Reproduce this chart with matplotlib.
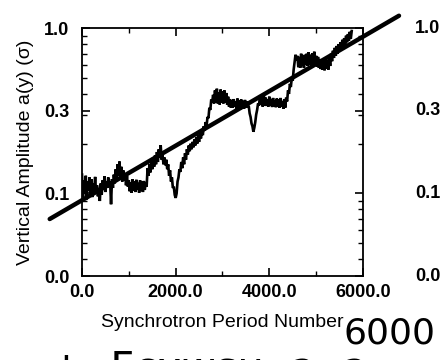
import numpy as np
import matplotlib.pyplot as plt
from matplotlib.ticker import FixedLocator, NullFormatter, LogLocator

plt.rcParams['font.family'] = ['Liberation Sans', 'DejaVu Sans']

period_step = 20
amplitude = [
    0.130, 0.095, 0.120, 0.100, 0.128, 0.092, 0.118, 0.104, 0.125, 0.098,
    0.122, 0.095, 0.115, 0.104, 0.126, 0.100, 0.112, 0.096, 0.108, 0.090,
    0.115, 0.098, 0.120, 0.105, 0.127, 0.102, 0.118, 0.108, 0.125, 0.110,
    0.118, 0.086, 0.122, 0.108, 0.130, 0.115, 0.140, 0.120, 0.150, 0.128,
    0.156, 0.125, 0.145, 0.118, 0.138, 0.120, 0.132, 0.112, 0.128, 0.110,
    0.120, 0.103, 0.117, 0.101, 0.122, 0.104, 0.118, 0.102, 0.121, 0.105,
    0.116, 0.101, 0.120, 0.104, 0.118, 0.102, 0.119, 0.105, 0.116, 0.110,
    0.142, 0.128, 0.150, 0.134, 0.158, 0.140, 0.165, 0.145, 0.170, 0.150,
    0.178, 0.155, 0.185, 0.165, 0.196, 0.160, 0.170, 0.150, 0.165, 0.148,
    0.160, 0.140, 0.150, 0.128, 0.138, 0.118, 0.125, 0.108, 0.110, 0.098,
    0.094, 0.100, 0.118, 0.125, 0.140, 0.135, 0.155, 0.142, 0.165, 0.150,
    0.175, 0.160, 0.185, 0.172, 0.195, 0.180, 0.200, 0.185, 0.205, 0.190,
    0.212, 0.195, 0.218, 0.200, 0.225, 0.205, 0.230, 0.215, 0.240, 0.225,
    0.255, 0.240, 0.270, 0.255, 0.290, 0.285, 0.330, 0.320, 0.370, 0.355,
    0.395, 0.350, 0.420, 0.355, 0.430, 0.350, 0.410, 0.345, 0.425, 0.355,
    0.415, 0.350, 0.420, 0.355, 0.405, 0.345, 0.385, 0.335, 0.372, 0.330,
    0.365, 0.330, 0.372, 0.335, 0.360, 0.325, 0.375, 0.330, 0.365, 0.322,
    0.370, 0.330, 0.362, 0.325, 0.368, 0.332, 0.360, 0.330, 0.340, 0.305,
    0.290, 0.265, 0.255, 0.236, 0.250, 0.270, 0.300, 0.320, 0.350, 0.340,
    0.390, 0.345, 0.375, 0.335, 0.400, 0.340, 0.380, 0.338, 0.372, 0.335,
    0.385, 0.340, 0.370, 0.333, 0.378, 0.338, 0.365, 0.332, 0.375, 0.336,
    0.370, 0.330, 0.378, 0.335, 0.362, 0.325, 0.372, 0.330, 0.380, 0.360,
    0.420, 0.400, 0.460, 0.440, 0.500, 0.480, 0.560, 0.620, 0.690, 0.640,
    0.680, 0.580, 0.670, 0.575, 0.700, 0.590, 0.680, 0.575, 0.690, 0.600,
    0.700, 0.590, 0.715, 0.600, 0.690, 0.585, 0.705, 0.595, 0.720, 0.610,
    0.680, 0.585, 0.670, 0.575, 0.650, 0.565, 0.640, 0.560, 0.630, 0.555,
    0.660, 0.570, 0.640, 0.560, 0.660, 0.590, 0.700, 0.630, 0.730, 0.660,
    0.760, 0.680, 0.780, 0.700, 0.800, 0.720, 0.820, 0.740, 0.850, 0.770,
    0.870, 0.790, 0.900, 0.820, 0.920, 0.840, 0.950, 0.860, 0.960,
]
periods = np.arange(len(amplitude)) * period_step

# Exponential fit drawn across the panel: a(y) = fit_a * 10**(fit_b * n)
fit_a = 0.091
fit_b = 1.648e-4
fit_range = [-690, 6770]

ytick_vals = [10 ** -1.5, 0.1, 10 ** -0.5, 1.0]
ytick_labels = ['0.0', '0.1', '0.3', '1.0']
xtick_vals = [0, 2000, 4000, 6000]
xtick_labels = ['0.0', '2000.0', '4000.0', '6000.0']

fig = plt.figure(figsize=(4.41, 3.6), dpi=100)
ax = fig.add_axes([0.186, 0.233, 0.637, 0.689])

ax.plot(periods, amplitude, color='black', lw=1.9, solid_joinstyle='miter')

fx = np.array(fit_range)
ax.plot(fx, fit_a * 10 ** (fit_b * fx), color='black', lw=3.2,
        solid_capstyle='round', clip_on=False)

ax.set_yscale('log')
ax.set_ylim(10 ** -1.5, 1.0)
ax.set_xlim(0, 6000)

ax.yaxis.set_major_locator(FixedLocator(ytick_vals))
ax.set_yticklabels(ytick_labels)
ax.yaxis.set_minor_locator(LogLocator(base=10, subs=np.arange(2, 10)))
ax.yaxis.set_minor_formatter(NullFormatter())
ax.set_xticks(xtick_vals)
ax.set_xticklabels(xtick_labels)
ax.set_xticks(np.arange(0, 6001, 1000), minor=True)

ax.tick_params(which='major', direction='in', length=6, width=1.2,
               top=True, right=True, labelsize=13, pad=6)
ax.tick_params(axis='y', which='major', pad=9)
ax.tick_params(which='minor', direction='in', length=3.5, width=1.0,
               top=True, right=True)
for lab in ax.get_xticklabels() + ax.get_yticklabels():
    lab.set_fontweight('bold')
for sp in ax.spines.values():
    sp.set_linewidth(1.3)

ax.set_xlabel('Synchrotron Period Number', fontsize=14, labelpad=9)
ax.set_ylabel('Vertical Amplitude a(y) (\u03c3)', fontsize=14, labelpad=7)

# edge of the neighbouring panel, cut off by the scan
for val, lab in zip(ytick_vals, ytick_labels):
    yf = ax.transData.transform((0, val))[1] / fig.bbox.height
    fig.text(415 / 441, yf, lab, fontsize=13, fontweight='bold',
             ha='left', va='center')

# handwritten notes on the scan
fig.text(0.780, 0.025, '6000', fontsize=26, ha='left', va='bottom',
         family='DejaVu Sans')
fig.text(0.11, -0.085, '+  Fcxwsu  a  a', fontsize=30, ha='left',
         va='bottom', family='DejaVu Sans')

fig.savefig('out.png', dpi=100)
